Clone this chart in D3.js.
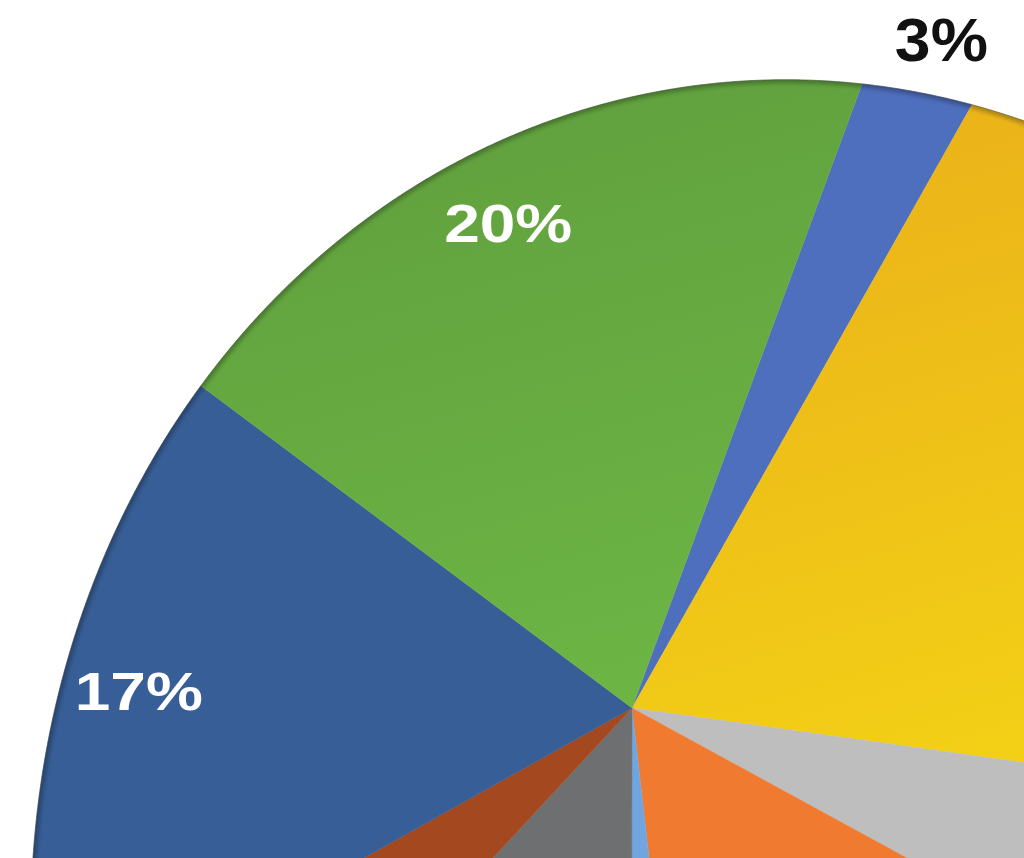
<!DOCTYPE html>
<html>
<head>
<meta charset="utf-8">
<script src="https://cdn.jsdelivr.net/npm/d3@7/dist/d3.min.js"></script>
<style>
  html, body { margin: 0; padding: 0; background: #ffffff; }
  svg { display: block; }
</style>
</head>
<body>
<svg id="chart" width="1024" height="858"></svg>
<script>
// ---- data (clockwise, starting with the small blue slice) ----
const categories = ["Slice 1", "Slice 2", "Slice 3", "Slice 4", "Slice 5", "Slice 6", "Slice 7", "Slice 8", "Slice 9"];
const values     = [3.1, 21.3, 4.8, 12.8, 1.8, 14.0, 6.1, 17.1, 19.0];
const labels     = ["3%", "", "", "", "", "", "", "17%", "20%"];
const colors     = ["#4E6EBE", "url(#gold)", "#BEBEBE", "#F17A31", "#6FA6E0", "#6E6F71", "#A3481F", "#375E96", "url(#green)"];

// ---- layout: a pie seen in perspective ----
const cx = 632, cy = 708;                 // point where the slices meet
const majorR = 680, minorR = 538;         // affine frame used for the slice directions
const tilt = -50.7 * Math.PI / 180;
// outer rim (conic in units of 100px relative to the meeting point): a x^2 + b xy + c y^2 + d x + e y = 1
const rimA = 0.018743, rimB = -0.001219, rimC = 0.015013, rimD = -0.065208, rimE = -0.07188;
const startDeg = 66.4;

const ux = Math.cos(tilt), uy = Math.sin(tilt), vx = -uy, vy = ux;
function dirOf(theta) {               // screen direction of pie angle theta
  const lx = Math.sin(theta), ly = -Math.cos(theta);
  const x = majorR * ux * lx + minorR * vx * ly;
  const y = majorR * uy * lx + minorR * vy * ly;
  const n = Math.hypot(x, y);
  return [x / n, y / n];
}
function rimDist(dir) {               // distance from meeting point to rim along dir (px)
  const [x, y] = dir;
  const Q = rimA * x * x + rimB * x * y + rimC * y * y;
  const L = rimD * x + rimE * y;
  return 100 * (-L + Math.sqrt(L * L + 4 * Q)) / (2 * Q);
}
function rimPoint(theta, f = 1) {
  const dir = dirOf(theta), r = rimDist(dir) * f;
  return [cx + dir[0] * r, cy + dir[1] * r];
}

const svg = d3.select("#chart");
const defs = svg.append("defs");
const gold = defs.append("linearGradient").attr("id", "gold").attr("gradientUnits", "userSpaceOnUse")
  .attr("x1", 800).attr("y1", 100).attr("x2", 1000).attr("y2", 760);
gold.append("stop").attr("offset", 0).attr("stop-color", "#EAB11A");
gold.append("stop").attr("offset", 1).attr("stop-color", "#F3D016");
const green = defs.append("linearGradient").attr("id", "green").attr("gradientUnits", "userSpaceOnUse")
  .attr("x1", 450).attr("y1", 90).attr("x2", 620).attr("y2", 690);
green.append("stop").attr("offset", 0).attr("stop-color", "#61A03E");
green.append("stop").attr("offset", 1).attr("stop-color", "#6CB544");
const blur = defs.append("filter").attr("id", "soft").attr("x", "-10%").attr("y", "-10%").attr("width", "120%").attr("height", "120%");
blur.append("feGaussianBlur").attr("stdDeviation", 2);

const data = categories.map((c, i) => ({ cat: c, value: values[i], label: labels[i], color: colors[i] }));
const pie = d3.pie().sort(null).value(d => d.value)
  .startAngle(startDeg * Math.PI / 180)
  .endAngle(startDeg * Math.PI / 180 + 2 * Math.PI);
const arcs = pie(data);
const line = d3.line();
const step = Math.PI / 720;

function slicePoints(d) {
  const pts = [[cx, cy]];
  const n = Math.max(2, Math.ceil((d.endAngle - d.startAngle) / step));
  for (let i = 0; i <= n; i++) pts.push(rimPoint(d.startAngle + (d.endAngle - d.startAngle) * i / n));
  return pts;
}
const rimPts = d3.range(0, 1441).map(i => rimPoint(i * step));

defs.append("clipPath").attr("id", "pieclip").append("path").attr("d", line(rimPts) + "Z");

svg.append("g").selectAll("path.slice").data(arcs).enter().append("path")
  .attr("class", "slice")
  .attr("d", d => line(slicePoints(d)) + "Z")
  .attr("fill", d => d.data.color)
  .attr("stroke", d => d.data.color).attr("stroke-width", 0.4);

// soft inner shade along the rim
svg.append("path").attr("d", line(rimPts) + "Z")
  .attr("fill", "none").attr("stroke", "rgba(0,0,0,0.28)").attr("stroke-width", 7)
  .attr("filter", "url(#soft)").attr("clip-path", "url(#pieclip)");
svg.append("path").attr("d", line(rimPts) + "Z")
  .attr("fill", "none").attr("stroke", "rgba(60,60,60,0.45)").attr("stroke-width", 1);

// ---- labels ----
arcs.filter(d => d.data.label).forEach(d => {
  const isOut = d.data.value < 5;
  const mid = (d.startAngle + d.endAngle) / 2;
  const a = dirOf(mid), s0 = dirOf(d.startAngle), s1 = dirOf(d.endAngle);
  const bis = [s0[0] + s1[0], s0[1] + s1[1]];
  const bn = Math.hypot(bis[0], bis[1]);
  let dir = [a[0] + bis[0] / bn, a[1] + bis[1] / bn];
  const dn = Math.hypot(dir[0], dir[1]);
  dir = [dir[0] / dn, dir[1] / dn];
  const r = rimDist(dir) * (isOut ? 1.085 : 0.862);
  svg.append("text")
    .attr("x", cx + dir[0] * r).attr("y", cy + dir[1] * r)
    .attr("text-anchor", "middle")
    .attr("dominant-baseline", "central")
    .attr("font-family", "Liberation Sans, Arial, sans-serif")
    .attr("font-weight", "bold")
    .attr("font-size", isOut ? 62 : 53)
    .attr("textLength", isOut ? 93 : 128)
    .attr("lengthAdjust", "spacingAndGlyphs")
    .attr("fill", isOut ? "#111111" : "#ffffff")
    .text(d.data.label);
});
</script>
</body>
</html>
